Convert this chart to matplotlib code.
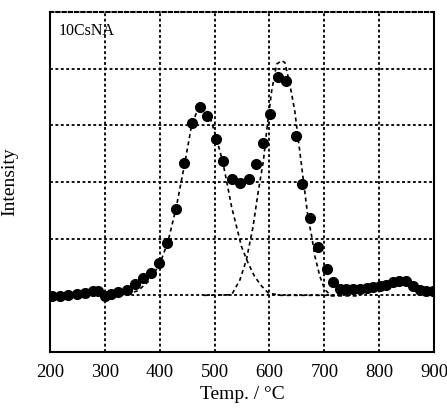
import matplotlib
matplotlib.use("Agg")
import matplotlib.pyplot as plt

plt.rcParams['font.family'] = ['Liberation Serif', 'DejaVu Serif']

# measured data (Temp in °C, intensity in arbitrary units)
temp = [203, 218, 233, 249, 264, 279, 288, 300, 312, 324, 340, 355, 370, 384, 399,
        414, 429, 444, 458, 474, 487, 502, 515, 531, 546, 562, 575, 589, 601, 615,
        631, 648, 660, 674, 689, 704, 716, 728, 740, 752, 765, 777, 789, 801, 813,
        825, 837, 849, 862, 874, 886, 898]
intensity = [0.98, 0.99, 1.01, 1.03, 1.04, 1.07, 1.08, 0.99, 1.03, 1.05, 1.10, 1.20,
             1.30, 1.40, 1.57, 1.93, 2.53, 3.34, 4.04, 4.32, 4.16, 3.76, 3.37, 3.06,
             2.98, 3.05, 3.31, 3.69, 4.20, 4.85, 4.79, 3.82, 2.96, 2.36, 1.86, 1.47,
             1.24, 1.12, 1.12, 1.12, 1.12, 1.13, 1.14, 1.16, 1.19, 1.23, 1.25, 1.25,
             1.16, 1.09, 1.07, 1.07]

# fitted peak 1
fit1_t = [300, 340, 360, 380, 400, 415, 430, 445, 458, 470, 480, 490, 503, 515, 525,
          531, 540, 549, 561, 573, 586, 598, 620, 720]
fit1_y = [1.00, 1.02, 1.08, 1.25, 1.55, 1.95, 2.55, 3.30, 4.00, 4.30, 4.35, 4.20,
          3.78, 3.35, 2.86, 2.56, 2.21, 1.86, 1.57, 1.33, 1.16, 1.04, 1.00, 1.00]

# fitted peak 2
fit2_t = [480, 531, 546, 558, 570, 579, 589, 595, 604, 613, 622, 628, 637, 646, 652,
          658, 664, 670, 677, 683, 692, 701, 713, 760]
fit2_y = [1.00, 1.01, 1.27, 1.63, 2.21, 2.80, 3.38, 3.91, 4.61, 5.08, 5.14, 5.11,
          4.73, 4.26, 3.79, 3.33, 2.86, 2.39, 2.04, 1.68, 1.33, 1.10, 0.99, 0.99]

xticks = [200, 300, 400, 500, 600, 700, 800, 900]

fig = plt.figure(figsize=(4.47, 4.11), dpi=100)
ax = fig.add_axes([0.112, 0.1436, 0.859, 0.8272])

dash = (0, (2.4, 2.0))
ax.plot(fit1_t, fit1_y, color='black', lw=1.2, linestyle=dash, zorder=3)
ax.plot(fit2_t, fit2_y, color='black', lw=1.2, linestyle=dash, zorder=3)
ax.plot(temp, intensity, 'o', color='black', markersize=7.0, zorder=4)

ax.set_xlim(200, 900)
ax.set_ylim(0, 6)
ax.set_xticks(xticks)
ax.set_xticklabels([str(t) for t in xticks])
ax.set_yticks([1, 2, 3, 4, 5])
ax.set_yticklabels([])
ax.tick_params(axis='both', length=0, labelsize=13.5, pad=9)

ax.grid(True, color='black', linestyle=(0, (1.6, 1.4)), linewidth=1.3)
ax.set_axisbelow(True)

for s in ['left', 'bottom', 'right']:
    ax.spines[s].set_linewidth(1.5)
    ax.spines[s].set_color('black')
ax.spines['top'].set_linestyle((0, (1.6, 1.4)))
ax.spines['top'].set_linewidth(1.5)

ax.set_xlabel('Temp. / \u00b0C', fontsize=14, labelpad=3)
ax.set_ylabel('Intensity', fontsize=14)
ax.yaxis.set_label_coords(-0.083, 0.5)
ax.text(0.022, 0.945, '10CsNA', transform=ax.transAxes, fontsize=11.5,
        ha='left', va='center')

fig.savefig('out.png', dpi=100)
